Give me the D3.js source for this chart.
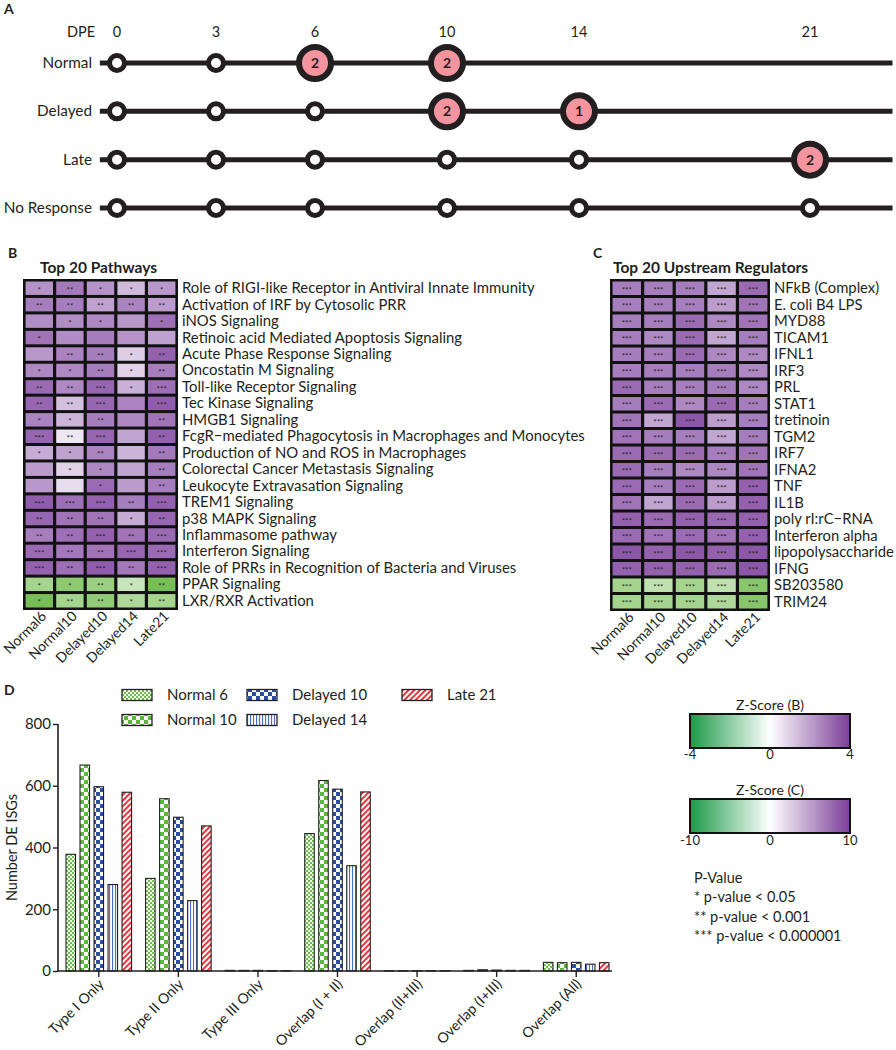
<!DOCTYPE html>
<html><head><meta charset="utf-8">
<script src="https://cdn.jsdelivr.net/npm/d3@7"></script>
<style>
body{margin:0;background:#fff}
svg{display:block}
text{font-family:Lato,'Open Sans',sans-serif;fill:#231f20}
</style>
</head><body>
<svg id="fig" width="896" height="1050"></svg>
<script>
// ---------------- DATA ----------------
// Panel A
const dpeDays = [0, 3, 6, 10, 14, 21];
const timelineGroups = ["Normal", "Delayed", "Late", "No Response"];
const timelineLastDay = [10, 14, 21, 21];
const peakGroup = ["Normal", "Normal", "Delayed", "Delayed", "Late"];
const peakDay = [6, 10, 10, 14, 21];
const peakCount = [2, 2, 2, 1, 2];

// Panels B & C
const heatSamples = ["Normal6", "Normal10", "Delayed10", "Delayed14", "Late21"];
const pathways = ["Role of RIGI-like Receptor in Antiviral Innate Immunity", "Activation of IRF by Cytosolic PRR", "iNOS Signaling", "Retinoic acid Mediated Apoptosis Signaling", "Acute Phase Response Signaling", "Oncostatin M Signaling", "Toll-like Receptor Signaling", "Tec Kinase Signaling", "HMGB1 Signaling", "FcgR\u2212mediated Phagocytosis in Macrophages and Monocytes", "Production of NO and ROS in Macrophages", "Colorectal Cancer Metastasis Signaling", "Leukocyte Extravasation Signaling", "TREM1 Signaling", "p38 MAPK Signaling", "Inflammasome pathway", "Interferon Signaling", "Role of PRRs in Recognition of Bacteria and Viruses", "PPAR Signaling", "LXR/RXR Activation"];
const pathwayZ = [
  [2.2, 2.7, 2.2, 1.4, 2.1],
  [2.6, 2.6, 1.9, 2.5, 2.0],
  [2.3, 2.3, 2.4, 2.1, 2.9],
  [2.8, 2.3, 2.6, 2.2, 1.9],
  [2.1, 2.5, 2.6, 1.0, 3.2],
  [2.4, 2.4, 2.6, 0.9, 2.6],
  [3.0, 2.4, 3.1, 1.6, 2.9],
  [3.1, 1.3, 3.1, 2.5, 3.3],
  [2.5, 1.5, 2.6, 2.4, 2.8],
  [3.1, 0.5, 3.1, 1.8, 3.2],
  [1.7, 1.9, 2.5, 1.5, 2.7],
  [2.0, 0.9, 2.4, 1.8, 2.6],
  [2.1, 0.7, 3.0, 2.0, 2.6],
  [3.3, 2.9, 3.2, 2.6, 3.2],
  [3.1, 2.8, 2.8, 1.7, 3.1],
  [2.6, 2.9, 3.2, 2.8, 3.0],
  [3.0, 2.7, 2.8, 3.1, 3.0],
  [3.2, 2.9, 3.3, 2.7, 3.2],
  [-2.0, -2.5, -2.2, -1.2, -3.0],
  [-3.0, -2.0, -2.4, -1.8, -2.0]
];
const pathwayStars = [
  [1, 2, 1, 1, 1], [2, 2, 2, 2, 2], [0, 1, 1, 0, 1], [1, 0, 0, 0, 0], [0, 2, 2, 1, 2],
  [1, 1, 2, 1, 2], [2, 2, 3, 1, 3], [2, 2, 3, 0, 3], [1, 1, 2, 0, 2], [3, 2, 3, 0, 2],
  [1, 1, 2, 0, 2], [0, 1, 1, 0, 2], [0, 0, 1, 0, 2], [3, 3, 3, 2, 3], [2, 2, 2, 1, 2],
  [2, 2, 3, 2, 3], [3, 2, 2, 3, 3], [3, 2, 3, 2, 3], [1, 1, 2, 1, 2], [1, 2, 2, 1, 2]
];
const regulators = ["NFkB (Complex)", "E. coli B4 LPS", "MYD88", "TICAM1", "IFNL1", "IRF3", "PRL", "STAT1", "tretinoin", "TGM2", "IRF7", "IFNA2", "TNF", "IL1B", "poly rI:rC\u2212RNA", "Interferon alpha", "lipopolysaccharide", "IFNG", "SB203580", "TRIM24"];
const regulatorZ = [
  [6.5, 6.5, 6.5, 4.5, 7.5],
  [6.5, 6.5, 6.5, 5.0, 7.0],
  [6.5, 6.5, 7.5, 6.0, 7.0],
  [6.5, 6.0, 7.5, 4.5, 6.5],
  [6.5, 6.5, 7.5, 6.0, 6.0],
  [6.5, 6.5, 6.5, 6.5, 6.0],
  [7.5, 6.5, 6.5, 6.5, 6.0],
  [6.5, 7.5, 6.0, 7.5, 6.5],
  [7.0, 4.5, 8.5, 5.0, 6.5],
  [7.0, 6.5, 6.5, 4.5, 6.5],
  [7.5, 7.5, 7.5, 6.5, 7.0],
  [7.5, 6.5, 6.0, 6.0, 7.0],
  [7.5, 6.5, 7.5, 5.0, 8.0],
  [7.0, 4.5, 7.5, 5.0, 8.0],
  [8.0, 7.5, 8.0, 7.5, 8.0],
  [7.5, 7.0, 7.5, 7.0, 8.0],
  [8.5, 8.0, 8.5, 8.0, 8.5],
  [8.0, 8.0, 8.0, 7.5, 8.5],
  [-5.0, -3.5, -5.0, -3.5, -6.5],
  [-5.0, -5.0, -5.0, -4.5, -6.5]
];
const regulatorStars = regulators.map(() => [3, 3, 3, 3, 3]);

// Panel D
const barCategories = ["Type I Only", "Type II Only", "Type III Only", "Overlap (I + II)", "Overlap (II+III)", "Overlap (I+III)", "Overlap (All)"];
const barSeries = ["Normal 6", "Normal 10", "Delayed 10", "Delayed 14", "Late 21"];
const normal6Values = [378, 300, 2, 445, 1, 2, 28];
const normal10Values = [667, 558, 2, 617, 1, 4, 27];
const delayed10Values = [597, 498, 2, 589, 1, 3, 28];
const delayed14Values = [280, 228, 1, 341, 1, 2, 22];
const late21Values = [579, 470, 1, 580, 1, 2, 27];
const barYTicks = [0, 200, 400, 600, 800];

// Legends
const zTicksB = [-4, 0, 4];
const zTicksC = [-10, 0, 10];
const pValueLines = ["P-Value", "* p-value < 0.05", "** p-value < 0.001", "*** p-value < 0.000001"];

// ---------------- DRAW ----------------
const svg = d3.select("#fig");
const ink = "#231f20";
const defs = svg.append("defs");

function panelLetter(t, x, y) {
  svg.append("text").attr("x", x).attr("y", y).attr("font-size", 14).attr("font-weight", 700).text(t);
}

// ===== Panel A =====
panelLetter("A", 4, 14);
const xA = d3.scaleLinear().domain([0, 21]).range([117, 810]);
const yA = d3.scalePoint().domain(timelineGroups).range([63, 208]);
const gA = svg.append("g");
gA.append("text").attr("x", 95).attr("y", 37).attr("text-anchor", "end").attr("font-size", 14.5).text("DPE");
gA.selectAll(".dpe").data(dpeDays).join("text")
  .attr("x", d => xA(d)).attr("y", 37).attr("text-anchor", "middle").attr("font-size", 14.5).text(d => d);
timelineGroups.forEach((g, i) => {
  const y = yA(g);
  gA.append("text").attr("x", 92).attr("y", y + 5).attr("text-anchor", "end").attr("font-size", 15.3).text(g);
  gA.append("line").attr("x1", xA(-0.52)).attr("x2", xA(23.5)).attr("y1", y).attr("y2", y)
    .attr("stroke", ink).attr("stroke-width", 5);
  const days = dpeDays.filter(d => d <= timelineLastDay[i]);
  days.forEach(d => {
    const pk = peakGroup.findIndex((pg, j) => pg === g && peakDay[j] === d);
    if (pk >= 0) {
      gA.append("circle").attr("cx", xA(d)).attr("cy", y).attr("r", 16)
        .attr("fill", "#f4949f").attr("stroke", ink).attr("stroke-width", 6);
      gA.append("text").attr("x", xA(d)).attr("y", y + 5).attr("text-anchor", "middle")
        .attr("font-size", 14).attr("font-weight", 700).text(peakCount[pk]);
    } else {
      gA.append("circle").attr("cx", xA(d)).attr("cy", y).attr("r", 7.5)
        .attr("fill", "#fff").attr("stroke", ink).attr("stroke-width", 5);
    }
  });
});

// ===== Heatmaps =====
function heatmap(opts) {
  const g = svg.append("g");
  const x = d3.scaleBand().domain(heatSamples).range([opts.x0, opts.x1]);
  const y = d3.scaleBand().domain(opts.rows).range([opts.y0, opts.y1]);
  const color = d3.scaleLinear().domain([-opts.max, 0, opts.max])
    .range(["#48a81c", "#ffffff", "#78399a"]).clamp(true);
  g.append("text").attr("x", opts.titleX).attr("y", 273).attr("font-size", 15.5).attr("font-weight", 700).text(opts.title);
  g.append("rect").attr("x", opts.x0 - 1).attr("y", opts.y0 - 1)
    .attr("width", opts.x1 - opts.x0 + 2).attr("height", opts.y1 - opts.y0 + 2).attr("fill", "#111");
  opts.rows.forEach((r, i) => {
    heatSamples.forEach((s, j) => {
      const v = opts.values[i][j];
      g.append("rect").attr("x", x(s) + 1.6).attr("y", y(r) + 1.5)
        .attr("width", x.bandwidth() - 3.2).attr("height", y.bandwidth() - 3)
        .attr("fill", color(v));
      const n = opts.stars[i][j];
      if (n > 0) {
        g.append("text").attr("x", x(s) + x.bandwidth() / 2).attr("y", y(r) + y.bandwidth() / 2 + 4.6)
          .attr("text-anchor", "middle").attr("font-size", 8).attr("fill", "#2a2a2a").text("*".repeat(n));
      }
    });
    g.append("text").attr("x", opts.x1 + 5).attr("y", y(r) + y.bandwidth() / 2 + 5)
      .attr("font-size", opts.labelSize).text(r);
  });
  heatSamples.forEach(s => {
    const cx = x(s) + x.bandwidth() / 2 + 8;
    g.append("text").attr("transform", `translate(${cx},${opts.y1 + 8}) rotate(-45)`)
      .attr("text-anchor", "end").attr("font-size", 14).text(s);
  });
}
panelLetter("B", 8, 258);
heatmap({title: "Top 20 Pathways", titleX: 40, rows: pathways, values: pathwayZ, stars: pathwayStars,
  max: 4, x0: 24, x1: 177, y0: 280, y1: 609, labelSize: 14.9});
panelLetter("C", 593, 258);
heatmap({title: "Top 20 Upstream Regulators", titleX: 613, rows: regulators, values: regulatorZ, stars: regulatorStars,
  max: 10, x0: 611, x1: 769, y0: 280, y1: 610, labelSize: 14.8});

// ===== Panel D patterns =====
function checker(id, size, col) {
  const p = defs.append("pattern").attr("id", id).attr("patternUnits", "userSpaceOnUse")
    .attr("width", size * 2).attr("height", size * 2);
  p.append("rect").attr("width", size * 2).attr("height", size * 2).attr("fill", "#fff");
  p.append("rect").attr("width", size).attr("height", size).attr("fill", col);
  p.append("rect").attr("x", size).attr("y", size).attr("width", size).attr("height", size).attr("fill", col);
}
checker("pN6", 2, "#6cc04a");
checker("pN10", 4, "#5cb83a");
checker("pD10", 4, "#2a4ea6");
{
  const p = defs.append("pattern").attr("id", "pD14").attr("patternUnits", "userSpaceOnUse").attr("width", 3).attr("height", 3);
  p.append("rect").attr("width", 3).attr("height", 3).attr("fill", "#fff");
  p.append("rect").attr("x", 1).attr("width", 1.1).attr("height", 3).attr("fill", "#4b6fc9");
}
{
  const p = defs.append("pattern").attr("id", "pL21").attr("patternUnits", "userSpaceOnUse")
    .attr("width", 4).attr("height", 4).attr("patternTransform", "rotate(45)");
  p.append("rect").attr("width", 4).attr("height", 4).attr("fill", "#fff");
  p.append("rect").attr("width", 1.8).attr("height", 4).attr("fill", "#e4202a");
}
const seriesFill = ["url(#pN6)", "url(#pN10)", "url(#pD10)", "url(#pD14)", "url(#pL21)"];
const seriesValues = [normal6Values, normal10Values, delayed10Values, delayed14Values, late21Values];

// ===== Panel D =====
panelLetter("D", 4, 695);
const gD = svg.append("g");
const x0 = d3.scaleBand().domain(barCategories).range([59, 616]);
const x1 = d3.scaleBand().domain(barSeries).range([0, x0.bandwidth()]).paddingInner(0.32).paddingOuter(0.5);
const yD = d3.scaleLinear().domain([0, 800]).range([971, 724]);

barCategories.forEach((c, ci) => {
  barSeries.forEach((s, si) => {
    const v = seriesValues[si][ci];
    gD.append("rect").attr("x", x0(c) + x1(s)).attr("y", yD(v))
      .attr("width", x1.bandwidth()).attr("height", yD(0) - yD(v))
      .attr("fill", seriesFill[si]).attr("stroke", ink).attr("stroke-width", 1.1);
  });
});
// y axis
const yAxis = d3.axisLeft(yD).tickValues(barYTicks).tickSize(5).tickPadding(2);
const gy = gD.append("g").attr("transform", "translate(58,0)").call(yAxis);
gy.select(".domain").attr("stroke", ink).attr("stroke-width", 1.6).attr("d", `M0,${yD(800)}V${yD(0)}`);
gy.selectAll(".tick line").attr("stroke", ink).attr("stroke-width", 1.4);
gy.selectAll(".tick text").attr("font-size", 15).attr("font-family", "Lato,'Open Sans',sans-serif").attr("fill", ink);
// x axis
gD.append("line").attr("x1", 57).attr("x2", 612).attr("y1", yD(0)).attr("y2", yD(0)).attr("stroke", ink).attr("stroke-width", 1.6);
barCategories.forEach(c => {
  const cx = x0(c) + x0.bandwidth() / 2;
  gD.append("line").attr("x1", cx).attr("x2", cx).attr("y1", yD(0)).attr("y2", yD(0) + 6).attr("stroke", ink).attr("stroke-width", 1.4);
  gD.append("text").attr("transform", `translate(${cx + 6},${yD(0) + 14}) rotate(-45)`)
    .attr("text-anchor", "end").attr("font-size", 14.2).text(c);
});
gD.append("text").attr("transform", `translate(17,${yD(400)}) rotate(-90)`).attr("text-anchor", "middle")
  .attr("font-size", 14.5).text("Number DE ISGs");

// legend D
const legX = [122, 122, 247, 247, 402];
const legY = [695, 720, 695, 720, 695];
barSeries.forEach((s, i) => {
  gD.append("rect").attr("x", legX[i]).attr("y", legY[i] - 5.5).attr("width", 30).attr("height", 11)
    .attr("fill", seriesFill[i]).attr("stroke", ink).attr("stroke-width", 1.3);
  gD.append("text").attr("x", legX[i] + 45).attr("y", legY[i] + 5).attr("font-size", 15).text(s);
});

// ===== colour bars =====
function colorbar(id, title, ticks, y0, titleY, labelY) {
  const max = ticks[ticks.length - 1];
  const cs = d3.scaleLinear().domain([-max, 0, max]).range(["#1a9a47", "#ffffff", "#7b3f98"]);
  const xs = d3.scaleLinear().domain([-max, max]).range([690, 850]);
  const grad = defs.append("linearGradient").attr("id", id);
  d3.range(0, 1.0001, 0.1).forEach(t => {
    grad.append("stop").attr("offset", t).attr("stop-color", cs(-max + 2 * max * t));
  });
  svg.append("text").attr("x", xs(0)).attr("y", titleY).attr("text-anchor", "middle").attr("font-size", 14).text(title);
  svg.append("rect").attr("x", 690).attr("y", y0).attr("width", 160).attr("height", 34)
    .attr("fill", `url(#${id})`).attr("stroke", "#111").attr("stroke-width", 2);
  svg.selectAll(null).data(ticks).join("text").attr("x", d => xs(d)).attr("y", labelY)
    .attr("text-anchor", "middle").attr("font-size", 13).text(d => d);
}
colorbar("gB", "Z-Score (B)", zTicksB, 714, 710, 759);
colorbar("gC", "Z-Score (C)", zTicksC, 799, 795, 845);

svg.selectAll(".pv").data(pValueLines).join("text")
  .attr("x", 694).attr("y", (d, i) => 883 + i * 19.3).attr("font-size", 14.5).text(d => d);
</script>
</body></html>
